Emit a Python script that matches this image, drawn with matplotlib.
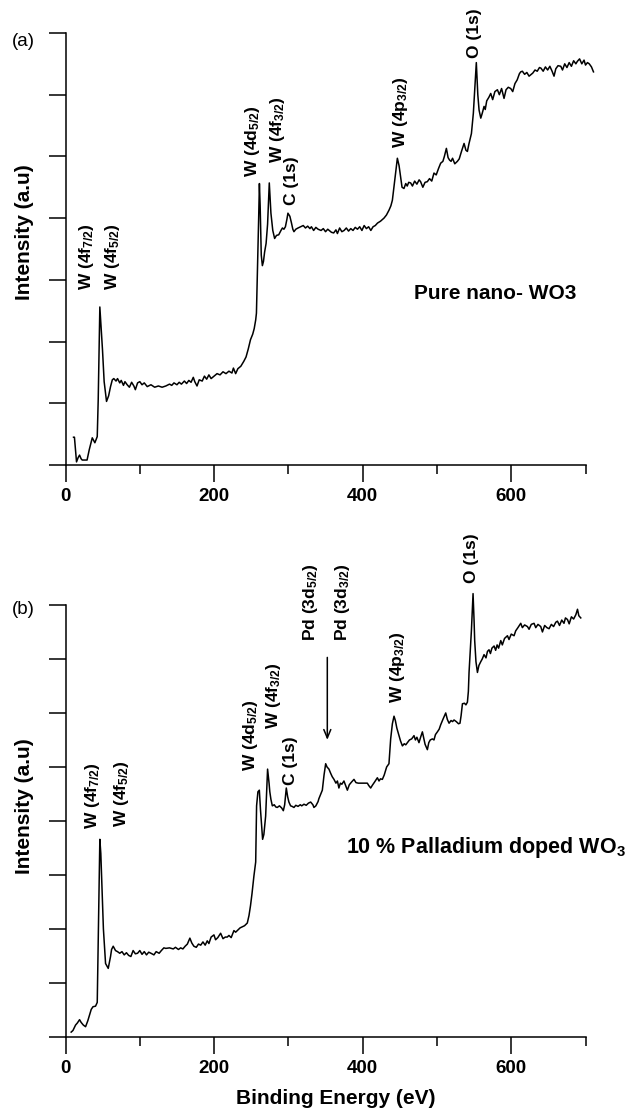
import matplotlib
matplotlib.use('Agg')
import matplotlib.pyplot as plt

plt.rcParams['font.family'] = ['Liberation Sans', 'DejaVu Sans']
plt.rcParams['mathtext.fontset'] = 'custom'
plt.rcParams['mathtext.rm'] = 'Liberation Sans:bold'
plt.rcParams['mathtext.default'] = 'rm'

# (a) pure nano-WO3 survey spectrum
energia_a = [10.8, 12, 14.8, 17, 18.9, 21, 22.5, 26, 29, 32, 36, 39.5, 42.7, 44, 46.2, 49.8, 52, 55.2,
             58, 60.6, 63, 65, 68, 70, 73, 75, 78, 80, 83, 86, 89, 92, 94, 97, 100, 103, 106, 110,
             115, 120, 125, 130, 135, 140, 143, 146, 150, 153, 156, 160, 163, 166, 169, 172, 174,
             177, 180, 184, 187, 190, 193, 196, 200, 204, 208, 212, 216, 220, 224, 226, 229, 232,
             236, 240, 243, 246, 249, 252, 254, 256, 257, 258.5, 260, 261, 262, 263.5, 265, 266.5,
             268, 270, 272, 274.3, 276.5, 279, 281.5, 284, 287, 290, 292, 294, 296, 298, 299.4,
             302, 304, 306, 307.5, 310, 313, 316.5, 320, 323, 326, 329, 331, 334, 337, 340, 344,
             347, 350, 353, 356, 358, 361, 364, 366, 369, 372, 375, 378, 381, 384, 387, 390, 393,
             396, 399, 402, 405, 408, 411, 414, 417, 420, 424, 428.7, 432, 435.5, 438, 440, 443,
             446.7, 449, 451, 453, 455.6, 458, 460, 462, 464.6, 467, 470, 473, 476, 478, 481, 484,
             487, 490, 493, 496, 499, 502, 505, 508, 510, 512.7, 515, 517, 519, 521, 524, 527.5,
             530, 533, 536.5, 539, 541, 543, 546.4, 549, 551, 553, 555, 556.7, 559, 561, 563.4,
             565, 567, 570, 572.4, 575, 578, 581.4, 584, 587, 590.3, 593, 596, 599.3, 602, 605,
             608, 611, 612.8, 615, 618, 621, 624, 626, 629, 632, 635, 638, 640, 643, 646, 649, 652,
             655, 657.6, 660, 663, 666.7, 669, 672, 675, 678, 681, 684, 687, 689, 692, 695, 698,
             700, 702.6, 705, 708, 710.7]
intensidad_a = [0.45, 0.45, 0.05, 0.12, 0.16, 0.10, 0.08, 0.08, 0.08, 0.25, 0.44, 0.36, 0.46, 1.05,
                2.56, 1.86, 1.35, 1.03, 1.12, 1.27, 1.38, 1.40, 1.36, 1.40, 1.33, 1.37, 1.29, 1.35,
                1.30, 1.26, 1.34, 1.28, 1.22, 1.33, 1.35, 1.30, 1.33, 1.27, 1.30, 1.26, 1.28, 1.26,
                1.28, 1.31, 1.29, 1.33, 1.30, 1.34, 1.31, 1.36, 1.32, 1.37, 1.34, 1.42, 1.35, 1.28,
                1.38, 1.36, 1.44, 1.39, 1.46, 1.40, 1.44, 1.48, 1.46, 1.51, 1.48, 1.52, 1.49, 1.57,
                1.48, 1.56, 1.60, 1.68, 1.75, 1.88, 2.03, 2.12, 2.21, 2.35, 2.46, 3.21, 4.0, 4.56,
                4.2, 3.4, 3.23, 3.30, 3.45, 3.59, 3.9, 4.57, 4.08, 3.80, 3.67, 3.72, 3.73, 3.80,
                3.84, 3.82, 3.86, 3.98, 4.08, 4.03, 3.93, 3.82, 3.78, 3.82, 3.84, 3.86, 3.88, 3.84,
                3.87, 3.83, 3.86, 3.80, 3.85, 3.82, 3.80, 3.83, 3.78, 3.82, 3.79, 3.77, 3.76, 3.81,
                3.75, 3.84, 3.78, 3.80, 3.84, 3.79, 3.83, 3.80, 3.85, 3.82, 3.86, 3.80, 3.88, 3.83,
                3.86, 3.80, 3.86, 3.88, 3.92, 3.95, 4.00, 4.05, 4.13, 4.20, 4.29, 4.6, 4.97, 4.85,
                4.67, 4.50, 4.48, 4.56, 4.52, 4.58, 4.57, 4.52, 4.60, 4.55, 4.62, 4.59, 4.50, 4.58,
                4.59, 4.64, 4.60, 4.73, 4.70, 4.80, 4.89, 4.92, 5.00, 5.13, 4.98, 4.94, 4.92, 4.97,
                4.88, 4.92, 4.96, 5.08, 5.21, 5.10, 5.08, 5.20, 5.37, 5.70, 6.10, 6.52, 6.0, 5.75,
                5.62, 5.70, 5.81, 5.76, 5.90, 5.96, 6.02, 5.92, 6.05, 6.08, 6.00, 6.10, 5.94, 6.08,
                6.12, 6.10, 6.05, 6.18, 6.24, 6.34, 6.37, 6.38, 6.33, 6.36, 6.30, 6.32, 6.35, 6.40,
                6.38, 6.44, 6.43, 6.38, 6.45, 6.40, 6.46, 6.38, 6.30, 6.42, 6.47, 6.46, 6.40, 6.50,
                6.44, 6.52, 6.46, 6.55, 6.50, 6.54, 6.58, 6.50, 6.56, 6.48, 6.52, 6.50, 6.45, 6.37]

# (b) 10 % Pd doped WO3 survey spectrum
energia_b = [7.6, 10, 13.5, 16, 18.9, 21, 24, 27, 30, 34.6, 37, 40.4, 42.7, 43.5, 45, 46.2, 47.5,
             49.4, 51, 53.9, 57.5, 60.6, 62, 64.2, 67.3, 70, 73, 76, 79, 82, 85, 88, 91, 94, 97,
             100, 103, 106, 109, 112, 115, 119, 122, 126, 129, 132.4, 135, 140, 145, 148, 152, 155,
             158, 161, 164, 167.4, 170, 172.8, 176, 179, 182, 185, 188, 190.8, 193, 196, 199.8,
             202, 205, 208.8, 212, 215, 217.7, 220, 223, 226.7, 229, 232, 235, 238, 241, 244.7,
             247, 249, 251, 253.6, 256, 257.2, 259, 260.9, 262.5, 265.3, 267, 269.4, 272, 274, 275,
             276.5, 278.4, 281, 283, 285, 288, 291, 293.2, 295, 297.2, 299, 300.7, 303, 305, 307.5,
             310, 313, 316, 318, 321, 324, 327, 330, 333, 334.4, 337, 340, 341, 343, 345.7, 348,
             350.2, 352, 354.6, 357, 359, 361.4, 364, 366, 368, 370, 372, 374.8, 377, 379.4, 382,
             385, 388.3, 391, 394, 397.3, 400, 403, 406.3, 408, 410.8, 413, 416, 419.8, 422, 424,
             426.5, 429, 432.3, 435.4, 437.7, 440, 442.2, 444, 446, 448.9, 451, 453.5, 456, 458,
             460.2, 463, 466, 469.1, 471, 473, 475.8, 478, 480.4, 482, 484, 487.1, 489, 491, 493.9,
             496, 498, 500.6, 503, 505, 508, 511.8, 514, 516.3, 519, 521, 523, 526, 529, 531, 532.5,
             534.3, 537, 539, 541, 542.3, 543.2, 545, 546.4, 548.6, 550, 550.8, 552.5, 554.5,
             556.5, 559, 561, 563.4, 566, 568, 570.1, 572, 574, 576.9, 579, 581, 583, 585.9, 588,
             591, 594.9, 597, 600, 603.8, 606, 609, 612.8, 615, 618, 621.8, 624, 627, 630.7, 633,
             636, 639.7, 642, 645, 648, 650.9, 654, 657, 660, 662.2, 665, 668, 671, 673, 675.7,
             678, 681, 684, 687, 689.2, 691, 693.6]
intensidad_b = [0.09, 0.12, 0.22, 0.26, 0.32, 0.27, 0.22, 0.19, 0.30, 0.51, 0.56, 0.57, 0.64, 1.36,
                2.8, 3.66, 3.4, 2.66, 2.0, 1.36, 1.27, 1.49, 1.62, 1.68, 1.60, 1.58, 1.55, 1.58,
                1.52, 1.56, 1.51, 1.49, 1.60, 1.54, 1.55, 1.60, 1.53, 1.58, 1.52, 1.57, 1.55, 1.52,
                1.58, 1.55, 1.60, 1.65, 1.64, 1.65, 1.63, 1.66, 1.62, 1.65, 1.63, 1.68, 1.72, 1.83,
                1.74, 1.68, 1.66, 1.72, 1.70, 1.76, 1.70, 1.78, 1.73, 1.85, 1.89, 1.80, 1.84, 1.92,
                1.82, 1.85, 1.85, 1.88, 1.84, 1.97, 1.94, 1.98, 2.02, 2.04, 2.06, 2.11, 2.25, 2.43,
                2.65, 2.98, 3.24, 4.28, 4.54, 4.57, 4.2, 3.66, 3.75, 4.09, 4.96, 4.70, 4.54, 4.40,
                4.28, 4.30, 4.26, 4.25, 4.28, 4.24, 4.19, 4.30, 4.61, 4.45, 4.35, 4.28, 4.27, 4.25,
                4.29, 4.27, 4.30, 4.28, 4.31, 4.29, 4.33, 4.35, 4.30, 4.25, 4.28, 4.36, 4.41, 4.48,
                4.57, 4.85, 5.06, 5.0, 4.96, 4.88, 4.82, 4.77, 4.70, 4.74, 4.61, 4.70, 4.68, 4.74,
                4.66, 4.57, 4.67, 4.72, 4.77, 4.71, 4.70, 4.70, 4.70, 4.70, 4.70, 4.66, 4.61, 4.66,
                4.72, 4.80, 4.74, 4.78, 4.77, 4.85, 5.00, 5.06, 5.52, 5.80, 5.94, 5.86, 5.72, 5.58,
                5.48, 5.39, 5.43, 5.41, 5.45, 5.50, 5.52, 5.58, 5.50, 5.55, 5.45, 5.55, 5.65, 5.55,
                5.42, 5.32, 5.45, 5.50, 5.52, 5.50, 5.60, 5.65, 5.70, 5.78, 5.88, 6.0, 5.88, 5.81,
                5.86, 5.84, 5.87, 5.84, 5.80, 5.81, 5.95, 6.17, 6.18, 6.15, 6.20, 6.40, 6.75, 7.2,
                7.53, 8.21, 7.70, 7.34, 6.95, 6.75, 6.88, 6.95, 7.00, 7.08, 7.02, 7.14, 7.17, 7.10,
                7.20, 7.24, 7.16, 7.26, 7.20, 7.34, 7.26, 7.38, 7.43, 7.36, 7.46, 7.43, 7.52, 7.58,
                7.66, 7.58, 7.63, 7.60, 7.55, 7.64, 7.66, 7.58, 7.64, 7.60, 7.50, 7.62, 7.58, 7.56,
                7.64, 7.60, 7.68, 7.70, 7.62, 7.72, 7.66, 7.76, 7.73, 7.65, 7.78, 7.74, 7.82, 7.92,
                7.80, 7.76]

# peak labels: (text, energy, intensity at the bottom of the label)
picos_a = [('W (4f$_{7/2}$)', 28, 2.84), ('W (4f$_{5/2}$)', 63, 2.84),
           ('W (4d$_{5/2}$)', 252, 4.67), ('W (4f$_{3/2}$)', 285, 4.89),
           ('C (1s)', 304, 4.21), ('W (4p$_{3/2}$)', 451, 5.13), ('O (1s)', 551, 6.59)]
picos_b = [('W (4f$_{7/2}$)', 36, 3.86), ('W (4f$_{5/2}$)', 76, 3.89),
           ('W (4d$_{5/2}$)', 249, 4.93), ('W (4f$_{3/2}$)', 280, 5.71),
           ('C (1s)', 303, 4.67), ('Pd (3d$_{5/2}$)', 330, 7.34), ('Pd (3d$_{3/2}$)', 373, 7.34),
           ('W (4p$_{3/2}$)', 447, 6.19), ('O (1s)', 546, 8.41)]


def preparar_ejes(ax, ymax):
    ax.set_xlim(0, 700)
    ax.set_ylim(0, ymax)
    for lado in ['top', 'right']:
        ax.spines[lado].set_visible(False)
    for lado in ['left', 'bottom']:
        ax.spines[lado].set_linewidth(1.1)
    ax.set_xticks([0, 200, 400, 600])
    ax.set_xticks([100, 300, 500, 700], minor=True)
    ax.set_xticklabels(['0', '200', '400', '600'], fontsize=13.5, fontweight='bold')
    ax.set_yticks(range(ymax + 1))
    ax.set_yticklabels([])
    ax.tick_params(axis='x', which='major', direction='out', length=12.5, width=1.1, pad=4)
    ax.tick_params(axis='x', which='minor', direction='out', length=6.5, width=1.1)
    ax.tick_params(axis='y', direction='out', length=12.5, width=1.1)


def etiquetas(ax, picos):
    for texto, x, y in picos:
        ax.text(x, y, texto, rotation=90, ha='center', va='bottom',
                fontsize=12.5, fontweight='bold')


fig = plt.figure(figsize=(6.3, 11.1), dpi=100)

ax1 = fig.add_axes([0.1040, 0.5811, 0.8254, 0.3892])
preparar_ejes(ax1, 7)
ax1.plot(energia_a, intensidad_a, color='black', lw=1.1, clip_on=False)
etiquetas(ax1, picos_a)
ax1.text(469, 2.78, 'Pure nano- WO3', fontsize=15, fontweight='bold', va='center')

ax2 = fig.add_axes([0.1040, 0.0658, 0.8254, 0.3892])
preparar_ejes(ax2, 8)
ax2.plot(energia_b, intensidad_b, color='black', lw=1.1, clip_on=False)
etiquetas(ax2, picos_b)
ax2.annotate('', xy=(352.4, 5.45), xytext=(352.4, 7.08),
             arrowprops=dict(arrowstyle='->,head_length=0.6,head_width=0.25', lw=1.1, color='black'))
ax2.text(377, 3.51, '10 % Palladium doped WO$_3$', fontsize=15.5, fontweight='bold', va='center')

fig.text(336 / 630, 1 - 1098 / 1110, 'Binding Energy (eV)', ha='center', va='center',
         fontsize=15, fontweight='bold')
fig.text(25 / 630, 1 - 232 / 1110, 'Intensity (a.u)', rotation=90, ha='center', va='center',
         fontsize=15, fontweight='bold')
fig.text(25 / 630, 1 - 806 / 1110, 'Intensity (a.u)', rotation=90, ha='center', va='center',
         fontsize=15, fontweight='bold')
fig.text(23 / 630, 1 - 42 / 1110, '(a)', ha='center', va='center', fontsize=13.5)
fig.text(23 / 630, 1 - 609 / 1110, '(b)', ha='center', va='center', fontsize=13.5)

fig.savefig('out.png', dpi=100)
